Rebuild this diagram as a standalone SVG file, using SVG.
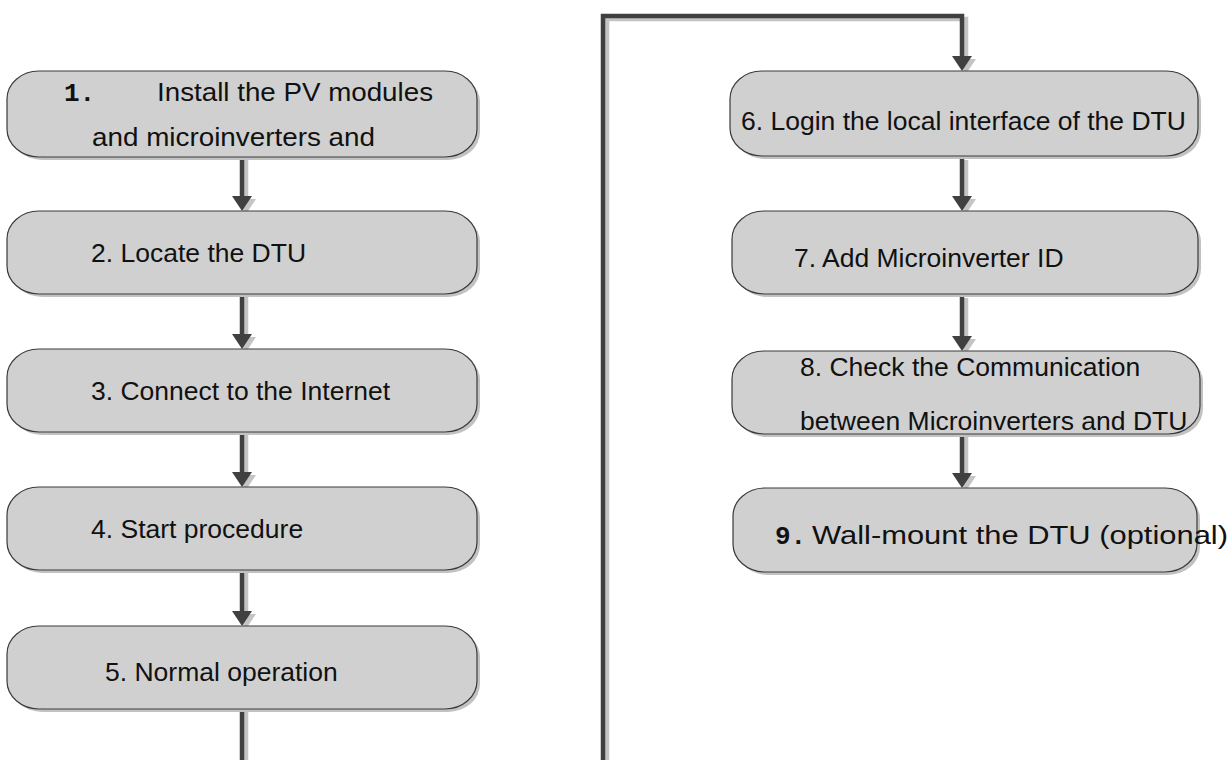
<svg xmlns="http://www.w3.org/2000/svg" width="1232" height="760" viewBox="0 0 1232 760">
<style>
.sh{fill:#c2c2c2;stroke:none}
.box{fill:#d0d0d0;stroke:#3a3a3a;stroke-width:1.2}
.t{font-family:"Liberation Sans",Arial,sans-serif;font-size:26.5px;fill:#111}
.num{font-family:"Liberation Mono","DejaVu Sans Mono",monospace;font-size:26px;font-weight:bold;fill:#111}
.ln{fill:none;stroke:#404040;stroke-width:4.5}
.lns{fill:none;stroke:#c4c4c4;stroke-width:4.5}
.ah{fill:#404040}
.ahs{fill:#c4c4c4}
</style>
<rect width="1232" height="760" fill="#fff"/>
<g id="connectors">
<g transform="translate(4,3)">
<path class="lns" d="M242,157V197M242,294V335M242,432V473M242,570V612M242,709V760M603,760V16H962V57M962,157V197M962,295V337M962,434V474"/>
<polygon class="ahs" points="232,196 252,196 242,211"/>
<polygon class="ahs" points="232,334 252,334 242,349"/>
<polygon class="ahs" points="232,472 252,472 242,487"/>
<polygon class="ahs" points="232,611 252,611 242,626"/>
<polygon class="ahs" points="952,56 972,56 962,71"/>
<polygon class="ahs" points="952,196 972,196 962,211"/>
<polygon class="ahs" points="952,336 972,336 962,351"/>
<polygon class="ahs" points="952,473 972,473 962,488"/>
</g>
<path class="ln" d="M242,157V197M242,294V335M242,432V473M242,570V612M242,709V760M603,760V16H962V57M962,157V197M962,295V337M962,434V474"/>
<polygon class="ah" points="232,196 252,196 242,211"/>
<polygon class="ah" points="232,334 252,334 242,349"/>
<polygon class="ah" points="232,472 252,472 242,487"/>
<polygon class="ah" points="232,611 252,611 242,626"/>
<polygon class="ah" points="952,56 972,56 962,71"/>
<polygon class="ah" points="952,196 972,196 962,211"/>
<polygon class="ah" points="952,336 972,336 962,351"/>
<polygon class="ah" points="952,473 972,473 962,488"/>
</g>
<g id="n1">
<rect class="sh" x="10" y="74" width="470" height="86" rx="32" ry="28"/>
<rect class="box" x="7" y="71" width="470" height="86" rx="32" ry="28"/>
<text class="num" x="64" y="101">1.</text>
<text class="t" x="157" y="101" textLength="276" lengthAdjust="spacingAndGlyphs">Install the PV modules</text>
<text class="t" x="92" y="146" textLength="283" lengthAdjust="spacingAndGlyphs">and microinverters and</text>
</g>
<g id="n2">
<rect class="sh" x="10" y="214" width="470" height="83" rx="32" ry="28"/>
<rect class="box" x="7" y="211" width="470" height="83" rx="32" ry="28"/>
<text class="t" x="91" y="262">2. Locate the DTU</text>
</g>
<g id="n3">
<rect class="sh" x="10" y="352" width="470" height="83" rx="32" ry="28"/>
<rect class="box" x="7" y="349" width="470" height="83" rx="32" ry="28"/>
<text class="t" x="91" y="400">3. Connect to the Internet</text>
</g>
<g id="n4">
<rect class="sh" x="10" y="490" width="470" height="83" rx="32" ry="28"/>
<rect class="box" x="7" y="487" width="470" height="83" rx="32" ry="28"/>
<text class="t" x="91" y="538">4. Start procedure</text>
</g>
<g id="n5">
<rect class="sh" x="10" y="629" width="470" height="83" rx="32" ry="28"/>
<rect class="box" x="7" y="626" width="470" height="83" rx="32" ry="28"/>
<text class="t" x="105" y="681">5. Normal operation</text>
</g>
<g id="n6">
<rect class="sh" x="733" y="74" width="468" height="85" rx="32" ry="28"/>
<rect class="box" x="730" y="71" width="468" height="85" rx="32" ry="28"/>
<text class="t" x="741" y="130">6. Login the local interface of the DTU</text>
</g>
<g id="n7">
<rect class="sh" x="735" y="214" width="466" height="83" rx="32" ry="28"/>
<rect class="box" x="732" y="211" width="466" height="83" rx="32" ry="28"/>
<text class="t" x="794" y="267">7. Add Microinverter ID</text>
</g>
<g id="n8">
<rect class="sh" x="735" y="354" width="468" height="83" rx="32" ry="28"/>
<rect class="box" x="732" y="351" width="468" height="83" rx="32" ry="28"/>
<text class="t" x="800" y="376">8. Check the Communication</text>
<text class="t" x="800" y="430">between Microinverters and DTU</text>
</g>
<g id="n9">
<rect class="sh" x="736" y="491" width="464" height="84" rx="32" ry="28"/>
<rect class="box" x="733" y="488" width="464" height="84" rx="32" ry="28"/>
<text class="num" x="775" y="544">9.</text>
<text class="t" x="812" y="544" textLength="416" lengthAdjust="spacingAndGlyphs">Wall-mount the DTU (optional)</text>
</g>
</svg>
